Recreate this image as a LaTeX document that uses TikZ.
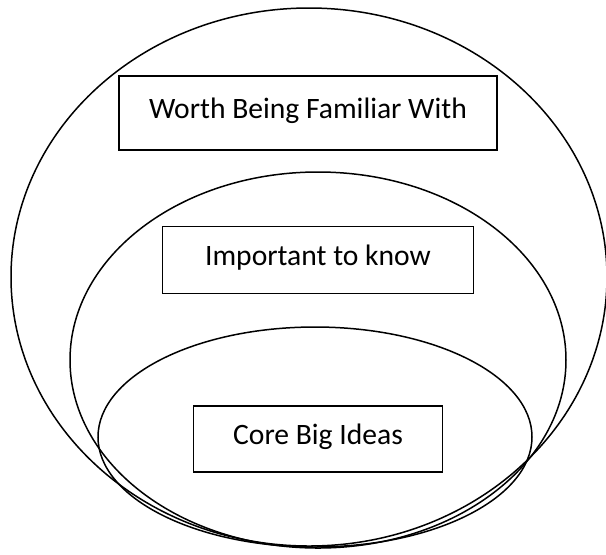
\documentclass[tikz,border=0pt]{standalone}
\usepackage{fontspec}
\setmainfont{Carlito}
\usetikzlibrary{shapes.geometric}

\tikzset{
  ring/.style={draw, ellipse, line width=0.75pt, inner sep=0pt},
  levelbox/.style={draw, rectangle, line width=0.75pt, inner sep=0pt,
    font=\fontsize{14.8}{18}\selectfont, text depth=0.45em}
}

\begin{document}
\begin{tikzpicture}[x=0.5pt, y=-0.5pt, node distance=2cm]
    \useasboundingbox (0,0) rectangle (606,554);

    % Rings
    \node (outer) [ring, minimum width=298pt, minimum height=269pt] at (309,277) {};
    \node (middle) [ring, minimum width=248pt, minimum height=188pt] at (318,360) {};
    \node (inner) [ring, minimum width=217pt, minimum height=110pt] at (315,437) {};

    % Boxes
    \node (worth) [levelbox, minimum width=189pt, minimum height=37pt] at (308,113) {Worth Being Familiar With};
    \node (important) [levelbox, below of=worth, node distance=73.5pt, xshift=5pt,
        minimum width=155.5pt, minimum height=33.5pt] {Important to know};
    \node (core) [levelbox, below of=important, node distance=89.5pt,
        minimum width=124.5pt, minimum height=33pt] {Core Big Ideas};
\end{tikzpicture}
\end{document}
